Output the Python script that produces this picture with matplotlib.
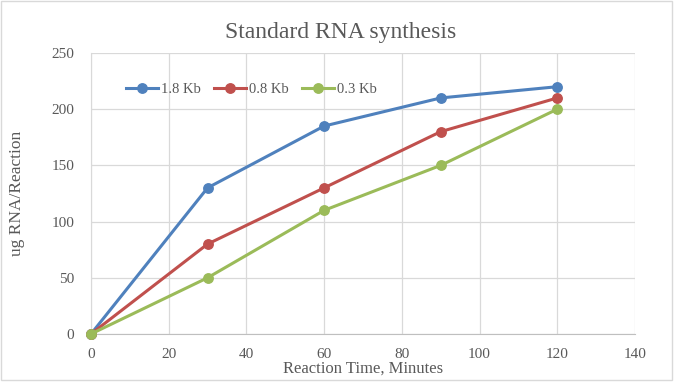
import matplotlib.pyplot as plt

# data
time_min = [0, 30, 60, 90, 120]
kb_18 = [0, 130, 185, 210, 220]
kb_08 = [0, 80, 130, 180, 210]
kb_03 = [0, 50, 110, 150, 200]

series_labels = ["1.8 Kb", "0.8 Kb", "0.3 Kb"]
series_colors = ["#4F81BD", "#C0504D", "#9BBB59"]

x_ticks = [0, 20, 40, 60, 80, 100, 120, 140]
y_ticks = [0, 50, 100, 150, 200, 250]

plt.rcParams["font.family"] = ["Liberation Serif", "DejaVu Serif"]
text_color = "#595959"

fig = plt.figure(figsize=(6.75, 3.82), dpi=100)
ax = fig.add_axes([0.1348, 0.1257, 0.8059, 0.7356])

for values, label, color in zip([kb_18, kb_08, kb_03], series_labels, series_colors):
    ax.plot(time_min, values, color=color, linewidth=2.2, marker="o",
            markersize=6.8, label=label, clip_on=False, zorder=3)

ax.set_xlim(0, 140)
ax.set_ylim(0, 250)
ax.set_xticks(x_ticks)
ax.set_yticks(y_ticks)
ax.grid(True, color="#D9D9D9", linewidth=0.9)
ax.set_axisbelow(True)

for side in ["top", "right"]:
    ax.spines[side].set_visible(False)
ax.spines["left"].set_color("#D9D9D9")
ax.spines["bottom"].set_color("#BFBFBF")
ax.tick_params(axis="both", length=0, labelsize=11, colors=text_color)
ax.tick_params(axis="x", pad=10)
ax.tick_params(axis="y", pad=12)

fig.text(0.505, 0.916, "Standard RNA synthesis", fontsize=17, color=text_color,
         ha="center", va="center")
ax.set_xlabel("Reaction Time, Minutes", fontsize=12, color=text_color, va="center")
ax.xaxis.set_label_coords(0.5, -0.122)
ax.set_ylabel("ug RNA/Reaction", fontsize=12.5, color=text_color, va="center")
ax.yaxis.set_label_coords(-0.136, 0.5)

leg = ax.legend(loc="upper left", bbox_to_anchor=(0.04, 0.94), ncol=3, frameon=False,
                fontsize=10.5, handlelength=2.2, handletextpad=0.2, columnspacing=0.9)
for t in leg.get_texts():
    t.set_color(text_color)

# light frame around the chart area
fig.patches.append(plt.Rectangle((0.002, 0.004), 0.993, 0.993, transform=fig.transFigure,
                                 fill=False, edgecolor="#D9D9D9", linewidth=1))

plt.savefig("out.png", dpi=100)
